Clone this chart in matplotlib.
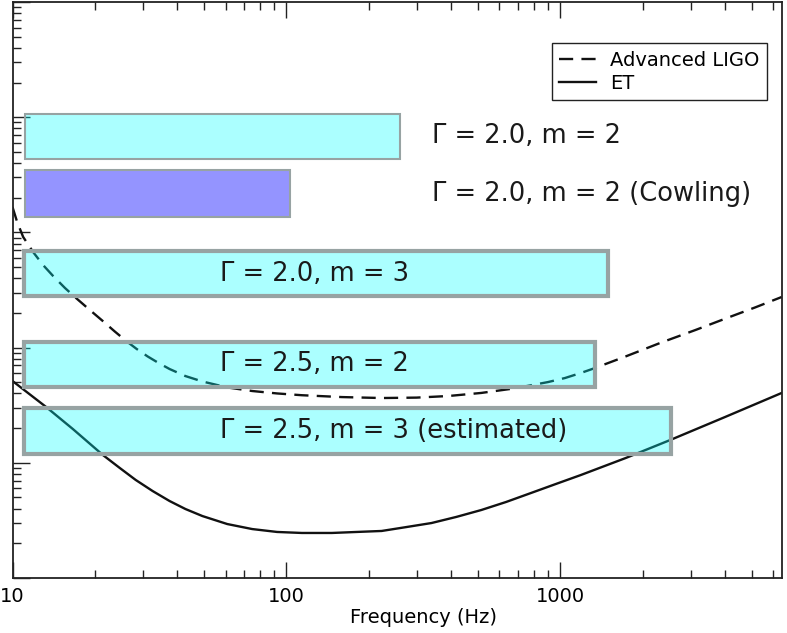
import numpy as np
import matplotlib
matplotlib.use("Agg")
import matplotlib.pyplot as plt
from matplotlib.ticker import FixedLocator, FixedFormatter, LogLocator, NullFormatter

# ---- data ----
aligo_freq = [10, 10.40, 10.94, 11.89, 12.93, 14.06, 15.55, 17.04, 19.16, 21.37, 23.63, 25.91,
              28.41, 31.15, 34.16, 37.45, 42.81, 49.37, 60.86, 75.03, 92.5, 114.0, 159.4,
              222.8, 298.8, 390.5, 514.8, 678.6, 902.2, 1040, 1189, 1326, 1734, 2324, 3115,
              4072, 5146, 6440]
aligo_strain = [1.66e-22, 1.23e-22, 9.12e-23, 6.76e-23, 5.21e-23, 4.19e-23, 3.29e-23, 2.70e-23,
                2.12e-23, 1.70e-23, 1.38e-23, 1.15e-23, 9.73e-24, 8.38e-24, 7.35e-24, 6.52e-24,
                5.66e-24, 5.08e-24, 4.51e-24, 4.20e-24, 4.00e-24, 3.86e-24, 3.72e-24, 3.65e-24,
                3.68e-24, 3.80e-24, 4.04e-24, 4.42e-24, 5.02e-24, 5.44e-24, 6.02e-24, 6.59e-24,
                8.38e-24, 1.10e-23, 1.42e-23, 1.81e-23, 2.23e-23, 2.75e-23]

et_freq = [10, 13.27, 16.63, 21.37, 24.64, 28.17, 32.48, 37.45, 42.81, 49.37, 60.86, 75.03,
           92.5, 114.0, 146.6, 180.7, 222.8, 274.8, 338.8, 417.6, 514.8, 634.6, 782.5, 964.7,
           1189, 1734, 2527, 4004, 6440]
et_strain = [5.13e-24, 3.05e-24, 1.96e-24, 1.17e-24, 9.02e-25, 7.10e-25, 5.69e-25, 4.66e-25,
             3.97e-25, 3.45e-25, 2.94e-25, 2.66e-25, 2.51e-25, 2.46e-25, 2.46e-25, 2.51e-25,
             2.56e-25, 2.77e-25, 3.00e-25, 3.39e-25, 3.89e-25, 4.57e-25, 5.47e-25, 6.55e-25,
             7.83e-25, 1.10e-24, 1.58e-24, 2.50e-24, 4.04e-24]

band_labels = ["Γ = 2.0, m = 2", "Γ = 2.0, m = 2 (Cowling)", "Γ = 2.0, m = 3",
               "Γ = 2.5, m = 2", "Γ = 2.5, m = 3 (estimated)"]
band_fmin = [11.1, 11.1, 11.0, 11.0, 11.0]
band_fmax = [261, 103, 1491, 1336, 2547]
band_low = [4.34e-22, 1.36e-22, 2.8e-23, 4.55e-24, 1.19e-24]
band_high = [1.066e-21, 3.48e-22, 6.9e-23, 1.12e-23, 2.99e-24]
band_colors = [(0, 1, 1, 0.33), (0, 0, 1, 0.42), (0, 1, 1, 0.33), (0, 1, 1, 0.33), (0, 1, 1, 0.33)]
band_edge_w = [1.5, 1.5, 3.0, 3.0, 3.0]
band_label_x = [339, 339, 57.4, 57.4, 57.4]

xtick_vals = [10, 100, 1000]
xtick_labels = ["10", "100", "1000"]

# ---- figure ----
fig = plt.figure(figsize=(7.87, 6.33), dpi=100)
ax = fig.add_axes([12.5 / 787, 55 / 633, 769.2 / 787, 576 / 633])
ax.set_xscale("log")
ax.set_yscale("log")
ax.set_xlim(10, 6440)
ax.set_ylim(1e-25, 1e-20)

ax.plot(aligo_freq, aligo_strain, color="#111111", lw=1.7, dashes=(6, 3.5),
        label="Advanced LIGO", zorder=2)
ax.plot(et_freq, et_strain, color="#111111", lw=1.7, label="ET", zorder=2)

for lab, f0, f1, lo, hi, c, ew, lx in zip(band_labels, band_fmin, band_fmax, band_low,
                                          band_high, band_colors, band_edge_w, band_label_x):
    ax.barh(lo, f1 - f0, height=hi - lo, left=f0, align="edge", facecolor=c,
            edgecolor="#97a3a3", linewidth=ew, zorder=3)
    ax.text(lx, np.sqrt(lo * hi), lab, ha="left", va="center", fontsize=18.5,
            color="#1a1a1a", zorder=4)

ax.xaxis.set_major_locator(FixedLocator(xtick_vals))
ax.xaxis.set_major_formatter(FixedFormatter(xtick_labels))
ax.xaxis.set_minor_locator(LogLocator(base=10, subs=np.arange(2, 10), numticks=100))
ax.xaxis.set_minor_formatter(NullFormatter())
ax.yaxis.set_major_locator(LogLocator(base=10, numticks=100))
ax.yaxis.set_minor_locator(LogLocator(base=10, subs=np.arange(2, 10), numticks=100))
ax.yaxis.set_minor_formatter(NullFormatter())

ax.tick_params(axis="x", which="both", direction="in", top=True, bottom=True,
               labelsize=14, pad=6.5, width=1.0, color="#222222")
ax.tick_params(axis="y", which="both", direction="in", left=True, right=False,
               labelleft=False, width=1.0, color="#222222")
ax.tick_params(axis="x", which="major", length=11.5)
ax.tick_params(axis="x", which="minor", length=6)
ax.tick_params(axis="y", which="major", length=12)
ax.tick_params(axis="y", which="minor", length=6)

for s in ax.spines.values():
    s.set_linewidth(1.3)
    s.set_color("#222222")

ax.set_xlabel("Frequency (Hz)", fontsize=14)
ax.xaxis.set_label_coords(0.534, -0.052)

leg = ax.legend(loc="upper right", bbox_to_anchor=(0.981, 0.929), borderaxespad=0,
                fontsize=14, frameon=True, fancybox=False, framealpha=1,
                handlelength=1.9, handletextpad=0.7, borderpad=0.4, labelspacing=0.2)
leg.get_frame().set_edgecolor("#222222")
leg.get_frame().set_linewidth(1.0)

fig.savefig("out.png", dpi=100)
